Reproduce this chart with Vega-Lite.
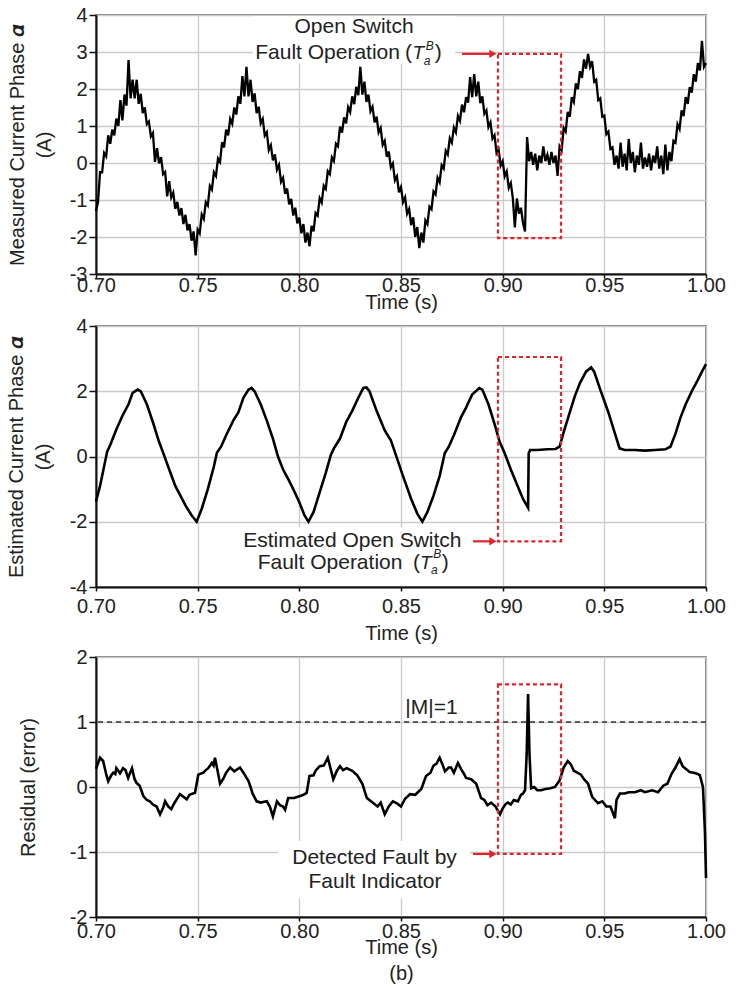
{
"$schema":"https://vega.github.io/schema/vega-lite/v6.json",
"background":"white",
"padding":{"left":5,"top":4,"right":10,"bottom":4},
"spacing":2,
"config":{
"font":"Liberation Sans",
"view":{"stroke":"#555","strokeWidth":1.5},
"axis":{"gridColor":"#cbcbcb","gridWidth":1.3,"labelFont":"Liberation Sans","labelFontSize":20,"labelColor":"#222","titleFont":"Liberation Sans","titleFontSize":20,"titleFontWeight":"normal","titleColor":"#222","domainColor":"#111","domainWidth":2,"tickColor":"#111","tickWidth":1.5,"labelFlush":false},
"axisY":{"tickSize":7,"labelPadding":2,"titleLineHeight":27},
"axisX":{"tickSize":4}
},
"datasets":{
"meas":[
{"t":0.700,"v":-1.30},{"t":0.701,"v":-1.05},{"t":0.702,"v":-0.25},{"t":0.703,"v":-0.25},{"t":0.704,"v":0.27},{"t":0.705,"v":0.18},{"t":0.706,"v":0.75},{"t":0.707,"v":0.52},{"t":0.708,"v":0.90},{"t":0.709,"v":0.75},
{"t":0.710,"v":1.20},{"t":0.711,"v":1.00},{"t":0.712,"v":1.70},{"t":0.713,"v":1.15},{"t":0.714,"v":1.85},{"t":0.715,"v":1.55},{"t":0.716,"v":2.78},{"t":0.717,"v":1.75},{"t":0.718,"v":2.25},{"t":0.719,"v":1.75},
{"t":0.720,"v":2.25},{"t":0.721,"v":1.60},{"t":0.722,"v":1.87},{"t":0.723,"v":1.35},{"t":0.724,"v":1.50},{"t":0.725,"v":1.05},{"t":0.726,"v":1.12},{"t":0.727,"v":0.72},{"t":0.728,"v":0.81},{"t":0.729,"v":0.03},
{"t":0.730,"v":0.40},{"t":0.731,"v":-0.01},{"t":0.732,"v":0.16},{"t":0.733,"v":-0.30},{"t":0.734,"v":-0.24},{"t":0.735,"v":-0.90},{"t":0.736,"v":-0.49},{"t":0.737,"v":-0.93},{"t":0.738,"v":-0.80},{"t":0.739,"v":-1.24},
{"t":0.740,"v":-1.05},{"t":0.741,"v":-1.42},{"t":0.742,"v":-1.22},{"t":0.743,"v":-1.65},{"t":0.744,"v":-1.40},{"t":0.745,"v":-1.82},{"t":0.746,"v":-1.65},{"t":0.747,"v":-2.10},{"t":0.748,"v":-1.85},{"t":0.749,"v":-2.50},
{"t":0.750,"v":-1.80},{"t":0.751,"v":-1.90},{"t":0.752,"v":-1.39},{"t":0.753,"v":-1.51},{"t":0.754,"v":-1.06},{"t":0.755,"v":-1.15},{"t":0.756,"v":-0.62},{"t":0.757,"v":-0.72},{"t":0.758,"v":-0.25},{"t":0.759,"v":-0.35},
{"t":0.760,"v":0.12},{"t":0.761,"v":0.03},{"t":0.762,"v":0.56},{"t":0.763,"v":0.42},{"t":0.764,"v":0.90},{"t":0.765,"v":0.75},{"t":0.766,"v":1.19},{"t":0.767,"v":1.06},{"t":0.768,"v":1.50},{"t":0.769,"v":1.31},
{"t":0.770,"v":1.80},{"t":0.771,"v":1.60},{"t":0.772,"v":2.35},{"t":0.773,"v":1.80},{"t":0.774,"v":2.60},{"t":0.775,"v":1.80},{"t":0.776,"v":2.25},{"t":0.777,"v":1.65},{"t":0.778,"v":1.88},{"t":0.779,"v":1.35},
{"t":0.780,"v":1.52},{"t":0.781,"v":1.07},{"t":0.782,"v":1.19},{"t":0.783,"v":0.74},{"t":0.784,"v":0.83},{"t":0.785,"v":0.35},{"t":0.786,"v":0.48},{"t":0.787,"v":0.07},{"t":0.788,"v":0.23},{"t":0.789,"v":-0.18},
{"t":0.790,"v":-0.05},{"t":0.791,"v":-0.51},{"t":0.792,"v":-0.40},{"t":0.793,"v":-0.83},{"t":0.794,"v":-0.69},{"t":0.795,"v":-1.12},{"t":0.796,"v":-0.97},{"t":0.797,"v":-1.42},{"t":0.798,"v":-1.21},{"t":0.799,"v":-1.63},
{"t":0.800,"v":-1.48},{"t":0.801,"v":-1.90},{"t":0.802,"v":-1.65},{"t":0.803,"v":-2.15},{"t":0.804,"v":-1.88},{"t":0.805,"v":-2.25},{"t":0.806,"v":-1.70},{"t":0.807,"v":-1.85},{"t":0.808,"v":-1.35},{"t":0.809,"v":-1.42},
{"t":0.810,"v":-0.95},{"t":0.811,"v":-1.07},{"t":0.812,"v":-0.61},{"t":0.813,"v":-0.70},{"t":0.814,"v":-0.22},{"t":0.815,"v":-0.30},{"t":0.816,"v":0.15},{"t":0.817,"v":0.05},{"t":0.818,"v":0.52},{"t":0.819,"v":0.45},
{"t":0.820,"v":0.98},{"t":0.821,"v":0.82},{"t":0.822,"v":1.23},{"t":0.823,"v":1.07},{"t":0.824,"v":1.51},{"t":0.825,"v":1.38},{"t":0.826,"v":1.80},{"t":0.827,"v":1.59},{"t":0.828,"v":2.06},{"t":0.829,"v":1.83},
{"t":0.830,"v":2.60},{"t":0.831,"v":1.85},{"t":0.832,"v":2.20},{"t":0.833,"v":1.65},{"t":0.834,"v":1.85},{"t":0.835,"v":1.40},{"t":0.836,"v":1.52},{"t":0.837,"v":1.10},{"t":0.838,"v":1.25},{"t":0.839,"v":0.83},
{"t":0.840,"v":0.95},{"t":0.841,"v":0.49},{"t":0.842,"v":0.60},{"t":0.843,"v":0.17},{"t":0.844,"v":0.31},{"t":0.845,"v":-0.12},{"t":0.846,"v":-0.01},{"t":0.847,"v":-0.47},{"t":0.848,"v":-0.36},{"t":0.849,"v":-0.79},
{"t":0.850,"v":-0.65},{"t":0.851,"v":-1.06},{"t":0.852,"v":-0.93},{"t":0.853,"v":-1.37},{"t":0.854,"v":-1.24},{"t":0.855,"v":-1.68},{"t":0.856,"v":-1.47},{"t":0.857,"v":-2.00},{"t":0.858,"v":-1.73},{"t":0.859,"v":-2.30},
{"t":0.860,"v":-1.88},{"t":0.861,"v":-2.15},{"t":0.862,"v":-1.55},{"t":0.863,"v":-1.65},{"t":0.864,"v":-1.18},{"t":0.865,"v":-1.25},{"t":0.866,"v":-0.77},{"t":0.867,"v":-0.85},{"t":0.868,"v":-0.40},{"t":0.869,"v":-0.52},
{"t":0.870,"v":-0.06},{"t":0.871,"v":-0.15},{"t":0.872,"v":0.33},{"t":0.873,"v":0.23},{"t":0.874,"v":0.67},{"t":0.875,"v":0.55},{"t":0.876,"v":0.96},{"t":0.877,"v":0.83},{"t":0.878,"v":1.27},{"t":0.879,"v":1.14},
{"t":0.880,"v":1.58},{"t":0.881,"v":1.37},{"t":0.882,"v":1.78},{"t":0.883,"v":1.63},{"t":0.884,"v":2.32},{"t":0.885,"v":1.78},{"t":0.886,"v":2.40},{"t":0.887,"v":1.80},{"t":0.888,"v":2.20},{"t":0.889,"v":1.62},
{"t":0.890,"v":1.80},{"t":0.891,"v":1.33},{"t":0.892,"v":1.42},{"t":0.893,"v":0.97},{"t":0.894,"v":1.10},{"t":0.895,"v":0.66},{"t":0.896,"v":0.75},{"t":0.897,"v":0.27},{"t":0.898,"v":0.37},{"t":0.899,"v":-0.07},
{"t":0.900,"v":0.05},{"t":0.901,"v":-0.36},{"t":0.902,"v":-0.23},{"t":0.903,"v":-0.67},{"t":0.904,"v":-0.54},{"t":0.905,"v":-0.95},{"t":0.906,"v":-1.74},{"t":0.907,"v":-0.96},{"t":0.908,"v":-1.37},{"t":0.909,"v":-1.21},
{"t":0.910,"v":-1.62},{"t":0.911,"v":-1.85},{"t":0.912,"v":0.70},{"t":0.913,"v":0.05},{"t":0.914,"v":0.30},{"t":0.915,"v":-0.05},{"t":0.916,"v":0.25},{"t":0.917,"v":-0.20},{"t":0.918,"v":0.20},{"t":0.919,"v":0.00},
{"t":0.920,"v":0.45},{"t":0.921,"v":0.05},{"t":0.922,"v":0.22},{"t":0.923,"v":-0.05},{"t":0.924,"v":0.30},{"t":0.925,"v":0.00},{"t":0.926,"v":0.20},{"t":0.927,"v":-0.35},{"t":0.928,"v":0.45},{"t":0.929,"v":0.35},
{"t":0.930,"v":0.95},{"t":0.931,"v":0.85},{"t":0.932,"v":1.38},{"t":0.933,"v":1.25},{"t":0.934,"v":1.78},{"t":0.935,"v":1.65},{"t":0.936,"v":2.15},{"t":0.937,"v":2.00},{"t":0.938,"v":2.48},{"t":0.939,"v":2.30},
{"t":0.940,"v":2.80},{"t":0.941,"v":2.55},{"t":0.942,"v":2.95},{"t":0.943,"v":2.60},{"t":0.944,"v":2.75},{"t":0.945,"v":2.20},{"t":0.946,"v":2.25},{"t":0.947,"v":1.70},{"t":0.948,"v":1.75},{"t":0.949,"v":1.25},
{"t":0.950,"v":1.28},{"t":0.951,"v":0.78},{"t":0.952,"v":0.85},{"t":0.953,"v":0.38},{"t":0.954,"v":0.42},{"t":0.955,"v":-0.05},{"t":0.956,"v":0.20},{"t":0.957,"v":-0.15},{"t":0.958,"v":0.55},{"t":0.959,"v":-0.10},
{"t":0.960,"v":0.25},{"t":0.961,"v":-0.20},{"t":0.962,"v":0.65},{"t":0.963,"v":0.00},{"t":0.964,"v":0.30},{"t":0.965,"v":-0.25},{"t":0.966,"v":0.20},{"t":0.967,"v":-0.05},{"t":0.968,"v":0.55},{"t":0.969,"v":-0.15},
{"t":0.970,"v":0.15},{"t":0.971,"v":-0.10},{"t":0.972,"v":0.25},{"t":0.973,"v":-0.20},{"t":0.974,"v":0.20},{"t":0.975,"v":0.00},{"t":0.976,"v":0.45},{"t":0.977,"v":-0.15},{"t":0.978,"v":0.20},{"t":0.979,"v":-0.30},
{"t":0.980,"v":0.50},{"t":0.981,"v":-0.20},{"t":0.982,"v":0.30},{"t":0.983,"v":0.05},{"t":0.984,"v":0.60},{"t":0.985,"v":0.55},{"t":0.986,"v":1.05},{"t":0.987,"v":0.92},{"t":0.988,"v":1.42},{"t":0.989,"v":1.27},
{"t":0.990,"v":1.78},{"t":0.991,"v":1.60},{"t":0.992,"v":2.05},{"t":0.993,"v":1.90},{"t":0.994,"v":2.40},{"t":0.995,"v":2.20},{"t":0.996,"v":2.70},{"t":0.997,"v":2.50},{"t":0.998,"v":3.30},{"t":0.999,"v":2.60},
{"t":1.000,"v":2.70}
],
"est":[
{"t":0.700,"v":-1.38},{"t":0.702,"v":-0.9},{"t":0.704,"v":-0.3},{"t":0.7055,"v":0.15},{"t":0.707,"v":0.35},{"t":0.710,"v":0.83},{"t":0.713,"v":1.25},{"t":0.716,"v":1.6},{"t":0.718,"v":1.95},{"t":0.7205,"v":2.05},
{"t":0.722,"v":2.0},{"t":0.725,"v":1.6},{"t":0.728,"v":1.05},{"t":0.731,"v":0.45},{"t":0.733,"v":0.12},{"t":0.736,"v":-0.4},{"t":0.739,"v":-0.9},{"t":0.7415,"v":-1.2},{"t":0.744,"v":-1.5},{"t":0.747,"v":-1.8},
{"t":0.7495,"v":-2.0},{"t":0.752,"v":-1.6},{"t":0.755,"v":-1.0},{"t":0.758,"v":-0.3},{"t":0.7595,"v":0.12},{"t":0.7615,"v":0.3},{"t":0.764,"v":0.65},{"t":0.7675,"v":1.1},{"t":0.770,"v":1.35},{"t":0.7725,"v":1.8},
{"t":0.775,"v":2.05},{"t":0.7765,"v":2.1},{"t":0.778,"v":2.0},{"t":0.781,"v":1.6},{"t":0.784,"v":1.1},{"t":0.787,"v":0.55},{"t":0.7895,"v":0.0},{"t":0.792,"v":-0.4},{"t":0.795,"v":-0.75},{"t":0.797,"v":-1.0},
{"t":0.800,"v":-1.4},{"t":0.8025,"v":-1.8},{"t":0.8045,"v":-2.0},{"t":0.807,"v":-1.7},{"t":0.810,"v":-1.1},{"t":0.813,"v":-0.5},{"t":0.8155,"v":0.05},{"t":0.817,"v":0.25},{"t":0.820,"v":0.55},{"t":0.823,"v":1.05},
{"t":0.826,"v":1.4},{"t":0.829,"v":1.8},{"t":0.8315,"v":2.1},{"t":0.833,"v":2.12},{"t":0.8345,"v":2.0},{"t":0.838,"v":1.4},{"t":0.842,"v":0.8},{"t":0.845,"v":0.5},{"t":0.848,"v":-0.05},{"t":0.851,"v":-0.6},
{"t":0.855,"v":-1.3},{"t":0.858,"v":-1.75},{"t":0.8605,"v":-2.0},{"t":0.863,"v":-1.7},{"t":0.866,"v":-1.2},{"t":0.869,"v":-0.6},{"t":0.8715,"v":0.1},{"t":0.8735,"v":0.3},{"t":0.876,"v":0.65},{"t":0.8795,"v":1.2},
{"t":0.882,"v":1.5},{"t":0.885,"v":1.9},{"t":0.8885,"v":2.1},{"t":0.890,"v":2.05},{"t":0.893,"v":1.6},{"t":0.896,"v":1.0},{"t":0.8985,"v":0.45},{"t":0.901,"v":0.1},{"t":0.904,"v":-0.4},{"t":0.907,"v":-0.85},
{"t":0.910,"v":-1.3},{"t":0.9125,"v":-1.57},{"t":0.9128,"v":0.10},{"t":0.9135,"v":0.2},{"t":0.917,"v":0.2},{"t":0.922,"v":0.22},{"t":0.926,"v":0.23},{"t":0.928,"v":0.3},{"t":0.930,"v":0.75},{"t":0.933,"v":1.35},
{"t":0.9355,"v":1.85},{"t":0.938,"v":2.25},{"t":0.941,"v":2.6},{"t":0.9435,"v":2.73},{"t":0.945,"v":2.6},{"t":0.948,"v":2.05},{"t":0.950,"v":1.7},{"t":0.952,"v":1.35},{"t":0.955,"v":0.75},{"t":0.9575,"v":0.25},
{"t":0.960,"v":0.2},{"t":0.965,"v":0.2},{"t":0.970,"v":0.18},{"t":0.975,"v":0.2},{"t":0.980,"v":0.22},{"t":0.9825,"v":0.3},{"t":0.985,"v":0.7},{"t":0.9875,"v":1.2},{"t":0.990,"v":1.6},{"t":0.993,"v":2.0},
{"t":0.996,"v":2.35},{"t":0.998,"v":2.6},{"t":1.000,"v":2.83}
],
"res":[
{"t":0.700,"v":0.28},{"t":0.702,"v":0.45},{"t":0.7035,"v":0.40},{"t":0.705,"v":0.2},{"t":0.706,"v":0.09},{"t":0.7075,"v":0.18},{"t":0.7085,"v":0.22},{"t":0.7095,"v":0.2},{"t":0.710,"v":0.29},{"t":0.711,"v":0.25},
{"t":0.7118,"v":0.21},{"t":0.7133,"v":0.29},{"t":0.7145,"v":0.26},{"t":0.7158,"v":0.14},{"t":0.7168,"v":0.22},{"t":0.7177,"v":0.29},{"t":0.719,"v":0.12},{"t":0.720,"v":0.06},{"t":0.7215,"v":0.02},{"t":0.7233,"v":-0.14},
{"t":0.725,"v":-0.2},{"t":0.7265,"v":-0.22},{"t":0.728,"v":-0.27},{"t":0.7298,"v":-0.3},{"t":0.7315,"v":-0.42},{"t":0.733,"v":-0.32},{"t":0.734,"v":-0.22},{"t":0.7355,"v":-0.3},{"t":0.737,"v":-0.34},{"t":0.7385,"v":-0.25},
{"t":0.7413,"v":-0.11},{"t":0.743,"v":-0.15},{"t":0.7446,"v":-0.19},{"t":0.746,"v":-0.12},{"t":0.7487,"v":-0.09},{"t":0.7503,"v":0.19},{"t":0.7528,"v":0.22},{"t":0.754,"v":0.26},{"t":0.7552,"v":0.29},{"t":0.757,"v":0.37},
{"t":0.7578,"v":0.33},{"t":0.7585,"v":0.45},{"t":0.7598,"v":0.25},{"t":0.761,"v":0.05},{"t":0.7625,"v":0.12},{"t":0.764,"v":0.22},{"t":0.766,"v":0.3},{"t":0.768,"v":0.24},{"t":0.7708,"v":0.3},{"t":0.7725,"v":0.22},
{"t":0.775,"v":0.09},{"t":0.776,"v":0.0},{"t":0.777,"v":-0.1},{"t":0.779,"v":-0.22},{"t":0.781,"v":-0.24},{"t":0.784,"v":-0.22},{"t":0.7855,"v":-0.3},{"t":0.787,"v":-0.45},{"t":0.789,"v":-0.22},{"t":0.7905,"v":-0.28},
{"t":0.792,"v":-0.3},{"t":0.793,"v":-0.35},{"t":0.7945,"v":-0.17},{"t":0.7975,"v":-0.17},{"t":0.8003,"v":-0.14},{"t":0.802,"v":-0.12},{"t":0.8036,"v":-0.09},{"t":0.805,"v":0.17},{"t":0.807,"v":0.18},{"t":0.808,"v":0.25},
{"t":0.810,"v":0.32},{"t":0.812,"v":0.33},{"t":0.814,"v":0.45},{"t":0.8167,"v":0.12},{"t":0.8185,"v":0.25},{"t":0.820,"v":0.32},{"t":0.8215,"v":0.26},{"t":0.8233,"v":0.29},{"t":0.826,"v":0.25},{"t":0.8285,"v":0.18},
{"t":0.831,"v":0.05},{"t":0.8332,"v":-0.17},{"t":0.836,"v":-0.24},{"t":0.8385,"v":-0.3},{"t":0.840,"v":-0.24},{"t":0.842,"v":-0.42},{"t":0.844,"v":-0.3},{"t":0.846,"v":-0.22},{"t":0.848,"v":-0.25},{"t":0.850,"v":-0.3},
{"t":0.852,"v":-0.18},{"t":0.8545,"v":-0.11},{"t":0.857,"v":-0.12},{"t":0.860,"v":-0.03},{"t":0.8623,"v":0.17},{"t":0.8645,"v":0.22},{"t":0.866,"v":0.33},{"t":0.8675,"v":0.36},{"t":0.869,"v":0.45},{"t":0.8705,"v":0.34},
{"t":0.8716,"v":0.24},{"t":0.8735,"v":0.3},{"t":0.8746,"v":0.3},{"t":0.876,"v":0.22},{"t":0.878,"v":0.37},{"t":0.8795,"v":0.28},{"t":0.881,"v":0.2},{"t":0.882,"v":0.14},{"t":0.8845,"v":0.12},{"t":0.887,"v":0.05},
{"t":0.8894,"v":-0.17},{"t":0.891,"v":-0.2},{"t":0.8925,"v":-0.28},{"t":0.8943,"v":-0.24},{"t":0.8965,"v":-0.3},{"t":0.8987,"v":-0.42},{"t":0.900,"v":-0.33},{"t":0.9015,"v":-0.26},{"t":0.9026,"v":-0.24},{"t":0.904,"v":-0.27},
{"t":0.9055,"v":-0.2},{"t":0.9075,"v":-0.22},{"t":0.909,"v":-0.12},{"t":0.910,"v":-0.1},{"t":0.911,"v":-0.05},{"t":0.9118,"v":0.5},{"t":0.9125,"v":1.43},{"t":0.9132,"v":0.5},{"t":0.914,"v":-0.02},{"t":0.9155,"v":0.0},
{"t":0.917,"v":-0.05},{"t":0.9189,"v":-0.05},{"t":0.921,"v":-0.03},{"t":0.9235,"v":-0.02},{"t":0.9257,"v":0.0},{"t":0.928,"v":0.1},{"t":0.930,"v":0.3},{"t":0.932,"v":0.4},{"t":0.9335,"v":0.35},{"t":0.935,"v":0.25},
{"t":0.9385,"v":0.19},{"t":0.940,"v":0.12},{"t":0.942,"v":0.05},{"t":0.944,"v":-0.15},{"t":0.9469,"v":-0.25},{"t":0.949,"v":-0.22},{"t":0.951,"v":-0.3},{"t":0.953,"v":-0.3},{"t":0.954,"v":-0.38},{"t":0.9552,"v":-0.48},
{"t":0.956,"v":-0.2},{"t":0.9577,"v":-0.1},{"t":0.960,"v":-0.1},{"t":0.962,"v":-0.08},{"t":0.965,"v":-0.08},{"t":0.968,"v":-0.05},{"t":0.970,"v":-0.08},{"t":0.9735,"v":-0.05},{"t":0.9764,"v":-0.08},{"t":0.979,"v":0.02},
{"t":0.981,"v":0.05},{"t":0.983,"v":0.2},{"t":0.985,"v":0.3},{"t":0.987,"v":0.43},{"t":0.9885,"v":0.32},{"t":0.990,"v":0.28},{"t":0.992,"v":0.23},{"t":0.994,"v":0.22},{"t":0.996,"v":0.2},{"t":0.997,"v":0.18},
{"t":0.9985,"v":0.0},{"t":0.9995,"v":-0.7},{"t":1.000,"v":-1.4}
]
},
"vconcat":[
{
"width":610,"height":259,
"resolve":{"axis":{"x":"independent","y":"independent"}},
"layer":[
{"data":{"name":"meas"},"mark":{"type":"line","color":"#000","strokeWidth":2.3},
 "encoding":{"x":{"field":"t","type":"quantitative","scale":{"domain":[0.7,1.0],"nice":false},"axis":{"title":"Time (s)","values":[0.7,0.75,0.8,0.85,0.9,0.95,1.0],"format":".2f","labelPadding":-3,"titlePadding":-3}},
 "y":{"field":"v","type":"quantitative","scale":{"domain":[-3,4],"nice":false},"axis":{"title":["Measured Current Phase 𝜶","(A)"],"values":[-3,-2,-1,0,1,2,3,4],"labelExpr":"datum.value < 0 ? '-' + (-datum.value) : '' + datum.value","titlePadding":15}}}},
{"data":{"values":[{"a":0.7772,"b":0.8766,"c":2.68,"d":3.97}]},"mark":{"type":"rect","fill":"white"},
 "encoding":{"x":{"field":"a","type":"quantitative","axis":null},"x2":{"field":"b"},"y":{"field":"c","type":"quantitative","axis":null},"y2":{"field":"d"}}},
{"data":{"values":[{"a":0.8977,"b":0.9287,"c":-2.03,"d":2.95}]},"mark":{"type":"rect","fill":null,"stroke":"#e3222b","strokeWidth":2.2,"strokeDash":[4,3]},
 "encoding":{"x":{"field":"a","type":"quantitative","axis":null},"x2":{"field":"b"},"y":{"field":"c","type":"quantitative","axis":null},"y2":{"field":"d"}}},
{"data":{"values":[{"a":0.8800,"b":0.8950,"c":2.95}]},"mark":{"type":"rule","color":"#e3222b","strokeWidth":2.2},
 "encoding":{"x":{"field":"a","type":"quantitative","axis":null},"x2":{"field":"b"},"y":{"field":"c","type":"quantitative","axis":null}}},
{"data":{"values":[{"a":0.8952,"c":2.95}]},"mark":{"type":"point","shape":"triangle-right","filled":true,"color":"#e3222b","size":70,"opacity":1},
 "encoding":{"x":{"field":"a","type":"quantitative","axis":null},"y":{"field":"c","type":"quantitative","axis":null}}},
{"data":{"values":[{"a":0.8269,"c":3.68,"s":"Open Switch"},{"a":0.8139,"c":2.97,"s":"Fault Operation"}]},"mark":{"type":"text","fontSize":21,"color":"#222","align":"center","baseline":"middle"},
 "encoding":{"x":{"field":"a","type":"quantitative","axis":null},"y":{"field":"c","type":"quantitative","axis":null},"text":{"field":"s"}}},
{"data":{"values":[{"a":0.8520,"c":2.97,"s":"("},{"a":0.8666,"c":2.97,"s":")"}]},"mark":{"type":"text","fontSize":21,"color":"#222","align":"left","baseline":"middle"},
 "encoding":{"x":{"field":"a","type":"quantitative","axis":null},"y":{"field":"c","type":"quantitative","axis":null},"text":{"field":"s"}}},
{"data":{"values":[{"a":0.8556,"c":2.97,"s":"T"}]},"mark":{"type":"text","fontSize":19,"fontStyle":"italic","color":"#222","align":"left","baseline":"middle"},
 "encoding":{"x":{"field":"a","type":"quantitative","axis":null},"y":{"field":"c","type":"quantitative","axis":null},"text":{"field":"s"}}},
{"data":{"values":[{"a":0.8612,"c":2.76,"s":"a"},{"a":0.8622,"c":3.16,"s":"B"}]},"mark":{"type":"text","fontSize":12,"fontStyle":"italic","color":"#222","align":"left","baseline":"middle"},
 "encoding":{"x":{"field":"a","type":"quantitative","axis":null},"y":{"field":"c","type":"quantitative","axis":null},"text":{"field":"s"}}}
]
},
{
"width":610,"height":261,
"resolve":{"axis":{"x":"independent","y":"independent"}},
"layer":[
{"data":{"name":"est"},"mark":{"type":"line","color":"#000","strokeWidth":2.6},
 "encoding":{"x":{"field":"t","type":"quantitative","scale":{"domain":[0.7,1.0],"nice":false},"axis":{"title":"Time (s)","values":[0.7,0.75,0.8,0.85,0.9,0.95,1.0],"format":".2f","labelPadding":5,"titlePadding":7}},
 "y":{"field":"v","type":"quantitative","scale":{"domain":[-4,4],"nice":false},"axis":{"title":["Estimated Current Phase 𝜶","(A)"],"values":[-4,-2,0,2,4],"labelExpr":"datum.value < 0 ? '-' + (-datum.value) : '' + datum.value","titlePadding":16}}}},
{"data":{"values":[{"a":0.7708,"b":0.8815,"c":-2.18,"d":-3.94}]},"mark":{"type":"rect","fill":"white"},
 "encoding":{"x":{"field":"a","type":"quantitative","axis":null},"x2":{"field":"b"},"y":{"field":"c","type":"quantitative","axis":null},"y2":{"field":"d"}}},
{"data":{"values":[{"a":0.8977,"b":0.9287,"c":-2.6,"d":3.05}]},"mark":{"type":"rect","fill":null,"stroke":"#e3222b","strokeWidth":2.2,"strokeDash":[4,3]},
 "encoding":{"x":{"field":"a","type":"quantitative","axis":null},"x2":{"field":"b"},"y":{"field":"c","type":"quantitative","axis":null},"y2":{"field":"d"}}},
{"data":{"values":[{"a":0.8854,"b":0.8950,"c":-2.6}]},"mark":{"type":"rule","color":"#e3222b","strokeWidth":2.2},
 "encoding":{"x":{"field":"a","type":"quantitative","axis":null},"x2":{"field":"b"},"y":{"field":"c","type":"quantitative","axis":null}}},
{"data":{"values":[{"a":0.8952,"c":-2.6}]},"mark":{"type":"point","shape":"triangle-right","filled":true,"color":"#e3222b","size":70,"opacity":1},
 "encoding":{"x":{"field":"a","type":"quantitative","axis":null},"y":{"field":"c","type":"quantitative","axis":null}}},
{"data":{"values":[{"a":0.8261,"c":-2.58,"s":"Estimated Open Switch"},{"a":0.8151,"c":-3.26,"s":"Fault Operation"}]},"mark":{"type":"text","fontSize":21,"color":"#222","align":"center","baseline":"middle"},
 "encoding":{"x":{"field":"a","type":"quantitative","axis":null},"y":{"field":"c","type":"quantitative","axis":null},"text":{"field":"s"}}},
{"data":{"values":[{"a":0.8559,"c":-3.26,"s":"("},{"a":0.8700,"c":-3.26,"s":")"}]},"mark":{"type":"text","fontSize":21,"color":"#222","align":"left","baseline":"middle"},
 "encoding":{"x":{"field":"a","type":"quantitative","axis":null},"y":{"field":"c","type":"quantitative","axis":null},"text":{"field":"s"}}},
{"data":{"values":[{"a":0.8593,"c":-3.26,"s":"T"}]},"mark":{"type":"text","fontSize":19,"fontStyle":"italic","color":"#222","align":"left","baseline":"middle"},
 "encoding":{"x":{"field":"a","type":"quantitative","axis":null},"y":{"field":"c","type":"quantitative","axis":null},"text":{"field":"s"}}},
{"data":{"values":[{"a":0.8648,"c":-3.48,"s":"a"},{"a":0.8658,"c":-2.98,"s":"B"}]},"mark":{"type":"text","fontSize":12,"fontStyle":"italic","color":"#222","align":"left","baseline":"middle"},
 "encoding":{"x":{"field":"a","type":"quantitative","axis":null},"y":{"field":"c","type":"quantitative","axis":null},"text":{"field":"s"}}}
]
},
{
"width":610,"height":260,
"resolve":{"axis":{"x":"independent","y":"independent"}},
"layer":[
{"data":{"name":"res"},"mark":{"type":"line","color":"#000","strokeWidth":2.6},
 "encoding":{"x":{"field":"t","type":"quantitative","scale":{"domain":[0.7,1.0],"nice":false},"axis":{"title":["Time (s)","(b)"],"titleLineHeight":26,"values":[0.7,0.75,0.8,0.85,0.9,0.95,1.0],"format":".2f","labelPadding":0,"titlePadding":-4}},
 "y":{"field":"v","type":"quantitative","scale":{"domain":[-2,2],"nice":false},"axis":{"title":"Residual (error)","values":[-2,-1,0,1,2],"labelExpr":"datum.value < 0 ? '-' + (-datum.value) : '' + datum.value","titlePadding":31}}}},
{"data":{"values":[{"a":0.7895,"b":0.8839,"c":-0.83,"d":-1.71}]},"mark":{"type":"rect","fill":"white"},
 "encoding":{"x":{"field":"a","type":"quantitative","axis":null},"x2":{"field":"b"},"y":{"field":"c","type":"quantitative","axis":null},"y2":{"field":"d"}}},
{"data":{"values":[{"c":1}]},"mark":{"type":"rule","color":"#333","strokeWidth":1.6,"strokeDash":[5,4]},
 "encoding":{"y":{"field":"c","type":"quantitative","axis":null}}},
{"data":{"values":[{"a":0.8977,"b":0.9287,"c":-1.03,"d":1.58}]},"mark":{"type":"rect","fill":null,"stroke":"#e3222b","strokeWidth":2.2,"strokeDash":[4,3]},
 "encoding":{"x":{"field":"a","type":"quantitative","axis":null},"x2":{"field":"b"},"y":{"field":"c","type":"quantitative","axis":null},"y2":{"field":"d"}}},
{"data":{"values":[{"a":0.8854,"b":0.8950,"c":-1.03}]},"mark":{"type":"rule","color":"#e3222b","strokeWidth":2.2},
 "encoding":{"x":{"field":"a","type":"quantitative","axis":null},"x2":{"field":"b"},"y":{"field":"c","type":"quantitative","axis":null}}},
{"data":{"values":[{"a":0.8952,"c":-1.03}]},"mark":{"type":"point","shape":"triangle-right","filled":true,"color":"#e3222b","size":70,"opacity":1},
 "encoding":{"x":{"field":"a","type":"quantitative","axis":null},"y":{"field":"c","type":"quantitative","axis":null}}},
{"data":{"values":[{"a":0.8370,"c":-1.09,"s":"Detected Fault by"},{"a":0.8372,"c":-1.46,"s":"Fault Indicator"},{"a":0.8650,"c":1.22,"s":"|M|=1"}]},"mark":{"type":"text","fontSize":21,"color":"#222","align":"center","baseline":"middle"},
 "encoding":{"x":{"field":"a","type":"quantitative","axis":null},"y":{"field":"c","type":"quantitative","axis":null},"text":{"field":"s"}}}
]
}
]
}
